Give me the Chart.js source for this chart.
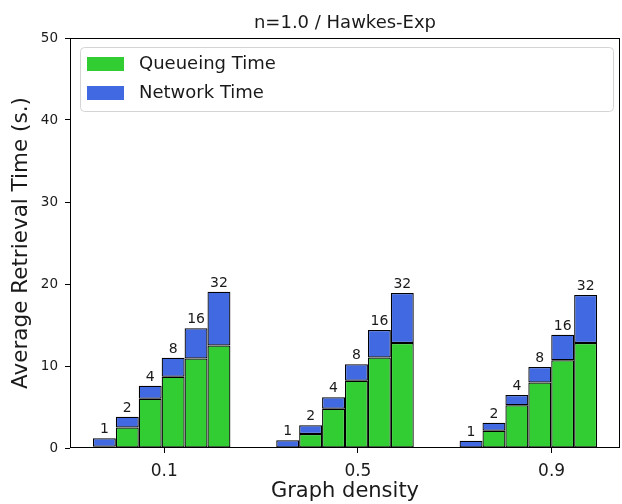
<!DOCTYPE html>
<html><head><meta charset="utf-8">
<script src="https://cdn.jsdelivr.net/npm/chart.js@4.4.1/dist/chart.umd.min.js"></script>
<style>html,body{margin:0;padding:0;background:#fff}#wrap{width:622px;height:504px;position:relative}</style>
</head><body><div id="wrap"><canvas id="c"></canvas></div>
<script>
const densities = ['0.1', '0.5', '0.9'];
const threadCounts = ['1', '2', '4', '8', '16', '32'];
// rows: thread count, columns: graph density
const queueingTime = [
  [0.15, 0.05, 0.05],
  [2.5, 1.7, 2.1],
  [6.0, 4.8, 5.2],
  [8.7, 8.2, 8.0],
  [10.9, 11.05, 10.7],
  [12.5, 12.8, 12.8]
];
const networkTime = [
  [1.05, 0.88, 0.84],
  [1.3, 1.06, 0.98],
  [1.6, 1.4, 1.26],
  [2.3, 2.0, 1.87],
  [3.7, 3.35, 3.1],
  [6.57, 6.1, 5.85]
];
const seriesNames = ['Queueing Time', 'Network Time'];
const seriesColors = ['#32CD32', '#4169E1'];
const chartTitle = 'n=1.0 / Hawkes-Exp';
const xTitle = 'Graph density';
const yTitle = 'Average Retrieval Time (s.)';
const yMin = 0, yMax = 50, yStep = 10;

const FONT = "'DejaVu Sans', sans-serif";
const TXT = '#1a1a1a';

const datasets = [];
threadCounts.forEach((t, i) => {
  datasets.push({
    label: seriesNames[0], data: queueingTime[i], stack: 's' + t,
    backgroundColor: seriesColors[0], borderColor: '#000', borderWidth: 1.25, borderSkipped: false
  });
  datasets.push({
    label: seriesNames[1], data: networkTime[i], stack: 's' + t,
    backgroundColor: seriesColors[1], borderColor: '#000', borderWidth: 1.25, borderSkipped: false
  });
});

const framePlugin = {
  id: 'frame',
  afterDraw(chart) {
    const {ctx, chartArea: a} = chart;
    ctx.save();
    ctx.strokeStyle = '#000';
    ctx.lineWidth = 1;
    ctx.strokeRect(Math.round(a.left) + 0.5, Math.round(a.top) + 0.5,
      Math.round(a.right - a.left) - 1, Math.round(a.bottom - a.top) - 1);
    // title centred over the plot area
    ctx.font = "18px " + FONT;
    ctx.fillStyle = TXT;
    ctx.textAlign = 'center';
    ctx.textBaseline = 'middle';
    ctx.fillText(chartTitle, (a.left + a.right) / 2, 23);
    ctx.restore();
  }
};

const barLabelPlugin = {
  id: 'barLabels',
  afterDatasetsDraw(chart) {
    const ctx = chart.ctx;
    ctx.save();
    ctx.font = "14px " + FONT;
    ctx.fillStyle = TXT;
    ctx.textAlign = 'center';
    ctx.textBaseline = 'alphabetic';
    threadCounts.forEach((t, i) => {
      const meta = chart.getDatasetMeta(2 * i + 1);
      meta.data.forEach(el => {
        ctx.fillText(t, el.x, el.y - 5);
      });
    });
    ctx.restore();
  }
};

const legendPlugin = {
  id: 'innerLegend',
  afterDraw(chart) {
    const {ctx, chartArea: a} = chart;
    const bx = a.left + 10, by = a.top + 9;
    const bw = a.right - 7 - bx, bh = 64;
    ctx.save();
    ctx.beginPath();
    ctx.roundRect(bx + 0.5, by + 0.5, bw, bh, 4);
    ctx.fillStyle = 'rgba(255,255,255,0.8)';
    ctx.fill();
    ctx.strokeStyle = '#d4d4d4';
    ctx.lineWidth = 1;
    ctx.stroke();
    ctx.font = "18px " + FONT;
    ctx.textBaseline = 'middle';
    ctx.textAlign = 'left';
    seriesNames.forEach((name, i) => {
      const py = by + 10 + i * 29;
      ctx.fillStyle = seriesColors[i];
      ctx.fillRect(bx + 7, py, 37, 14);
      ctx.fillStyle = TXT;
      ctx.fillText(name, bx + 59, py + 7);
    });
    ctx.restore();
  }
};

new Chart(document.getElementById('c'), {
  type: 'bar',
  data: { labels: densities, datasets },
  plugins: [framePlugin, barLabelPlugin, legendPlugin],
  options: {
    responsive: true,
    maintainAspectRatio: false,
    animation: false,
    layout: { padding: { left: 0, right: 2, top: 38, bottom: 0 } },
    datasets: { bar: { categoryPercentage: 0.75, barPercentage: 1.0 } },
    plugins: {
      legend: { display: false },
      tooltip: { enabled: false },
      title: { display: false }
    },
    scales: {
      x: {
        type: 'category', display: false, stacked: true,
        offset: true
      },
      xt: {
        type: 'linear', position: 'bottom', axis: 'x',
        min: -0.0945, max: 1.0412, offset: false,
        afterBuildTicks(scale) {
          scale.ticks = densities.map(d => ({ value: parseFloat(d) }));
        },
        afterFit(scale) { scale.height = 56; },
        grid: { display: true, offset: false, drawOnChartArea: false, drawTicks: true, tickLength: 5, color: '#000', tickColor: '#000' },
        border: { display: false },
        ticks: {
          color: TXT, padding: 8,
          font: { family: FONT, size: 17 },
          callback: v => v.toFixed(1)
        },
        title: {
          display: true, text: xTitle, color: TXT,
          font: { family: FONT, size: 21 },
          padding: { top: 0, bottom: 0 }
        }
      },
      y: {
        stacked: true, min: yMin, max: yMax,
        afterFit(scale) { scale.width = 70; },
        grid: { display: true, drawOnChartArea: false, drawTicks: true, tickLength: 5, color: '#000', tickColor: '#000' },
        border: { display: false },
        ticks: {
          stepSize: yStep, color: TXT, padding: 7,
          font: { family: FONT, size: 13.5 }
        },
        title: {
          display: true, text: yTitle, color: TXT,
          font: { family: FONT, size: 21.5 },
          padding: { top: 9, bottom: 0 }
        }
      }
    }
  }
});
</script>
</body></html>
